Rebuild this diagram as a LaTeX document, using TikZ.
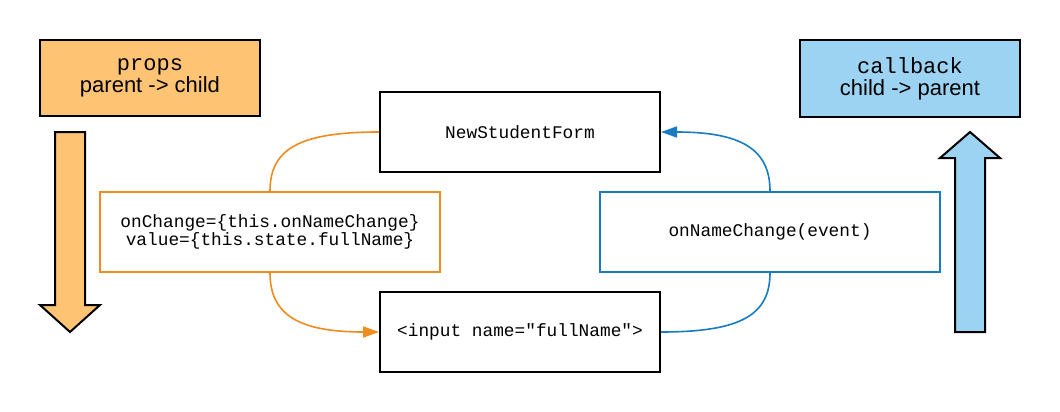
\documentclass[tikz,border=0pt]{standalone}
\usepackage{fontspec}
\setmainfont{Liberation Sans}
\setmonofont{Liberation Mono}
\usetikzlibrary{arrows.meta}
\definecolor{propfill}{RGB}{255,196,115}
\definecolor{cbfill}{RGB}{157,211,242}
\definecolor{ostroke}{RGB}{240,140,30}
\definecolor{bstroke}{RGB}{24,125,192}
\tikzset{
  legendbox/.style={draw=black, line width=2pt, minimum width=220pt, minimum height=76pt, inner sep=0pt, align=center, font=\fontsize{22}{22}\selectfont},
  compbox/.style={draw=black, line width=2pt, fill=white, minimum width=280pt, minimum height=80pt, inner sep=0pt, align=center, font=\fontsize{17.8}{18}\selectfont\ttfamily},
  codebox/.style={line width=1.8pt, fill=white, minimum width=340pt, minimum height=80pt, inner sep=0pt, align=center, font=\fontsize{17.8}{18}\selectfont\ttfamily},
  bigarrow/.style={draw=black, line width=2pt, line join=miter},
  flow/.style={line width=1.6pt},
  tip/.style={-{Triangle[length=16pt,width=11pt]}}
}
\begin{document}
\begin{tikzpicture}[x=1pt,y=-1pt]
\useasboundingbox (0,0) rectangle (1060,412);
\fill[white] (0,0) rectangle (1060,412);
% legend boxes
\node[legendbox, fill=propfill] (props) at (150,78) {{\ttfamily props}\\parent -> child};
\node[legendbox, fill=cbfill] (cb) at (910,78.5) {{\ttfamily callback}\\child -> parent};
% big arrows
\draw[bigarrow, fill=propfill] (55,132) -- (85,132) -- (85,305) -- (100,305) -- (70,332) -- (40,305) -- (55,305) -- cycle;
\draw[bigarrow, fill=cbfill] (955,332) -- (985,332) -- (985,158) -- (1000,158) -- (970,132) -- (940,158) -- (955,158) -- cycle;
% components
\node[compbox] (nsf) at (520,132) {NewStudentForm};
\node[compbox] (inp) at (520,332) {<input name="fullName">};
\node[codebox, draw=ostroke] (obox) at (270,232) {onChange=\{this.onNameChange\}\\value=\{this.state.fullName\}};
\node[codebox, draw=bstroke] (bbox) at (770,232) {onNameChange(event)};
% flows
\draw[flow, ostroke] (nsf.west) .. controls +(-80,0) and +(0,-42) .. (obox.north);
\draw[flow, ostroke, tip] (obox.south) .. controls +(0,42) and +(-80,0) .. (inp.west);
\draw[flow, bstroke] (inp.east) .. controls +(80,0) and +(0,42) .. (bbox.south);
\draw[flow, bstroke, tip] (bbox.north) .. controls +(0,-42) and +(80,0) .. (nsf.east);
\end{tikzpicture}
\end{document}
